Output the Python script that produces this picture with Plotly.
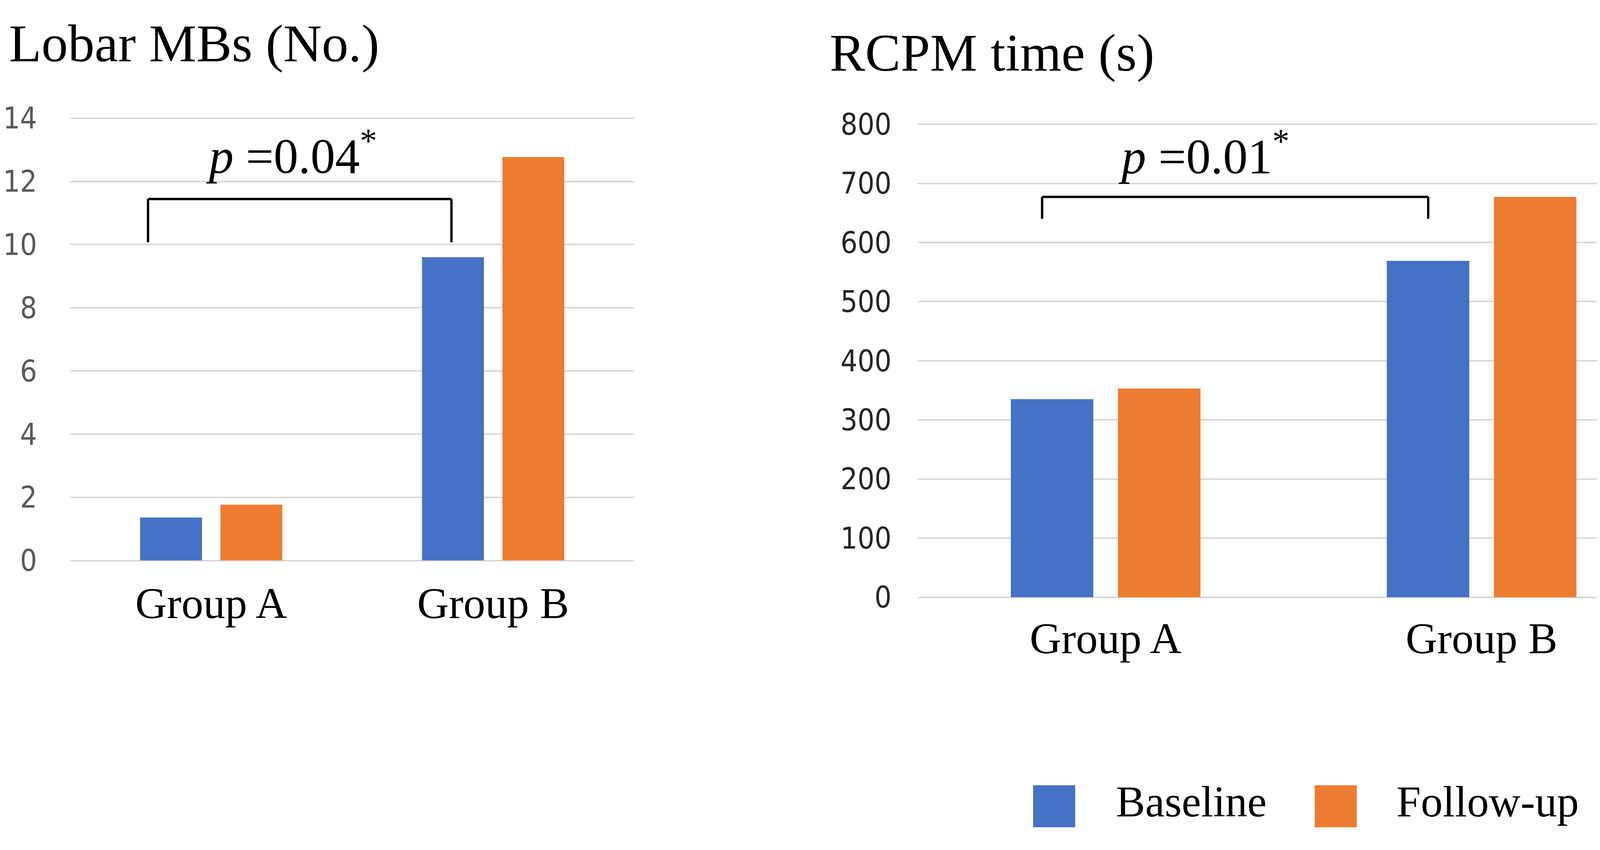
import plotly.graph_objects as go

# --- Canvas ---
W, H = 4328, 2177

# --- Data ---
groups = ["Group A", "Group B"]
series_names = ["Baseline", "Follow-up"]
series_colors = ["#4472C4", "#ED7D31"]

lobar_baseline = [1.36, 9.6]
lobar_followup = [1.77, 12.77]
lobar_ticks = [0, 2, 4, 6, 8, 10, 12, 14]

rcpm_baseline = [335, 569]
rcpm_followup = [353, 677]
rcpm_ticks = [0, 100, 200, 300, 400, 500, 600, 700, 800]

lobar_title = "Lobar MBs (No.)"
rcpm_title = "RCPM time (s)"
lobar_p_text = "<i>p</i> =0.04<sup>*</sup>"
rcpm_p_text = "<i>p</i> =0.01<sup>*</sup>"

# bracket levels (data units) and ends (category units)
lobar_bracket = dict(x0=-0.224, x1=0.852, y_leg=10.07, y_top=11.44)
rcpm_bracket = dict(x0=-0.169, x1=0.858, y_leg=640, y_top=677)

SERIF = "Liberation Serif, Times New Roman, serif"
NARROW = "Liberation Sans Narrow, DejaVu Sans Condensed, Liberation Sans, sans-serif"
GRID = "#d9d9d9"


def px_x(v):
    return v / W


def px_y(v):
    return 1 - v / H


# a little headroom so the top gridline is not dropped at the plot edge
HEAD = 1.004


def y_domain(zero_px, top_px):
    top = zero_px - (zero_px - top_px) * HEAD
    return [px_y(zero_px), px_y(top)]


fig = go.Figure()

for vals_a, vals_b, xa, ya in [
    (lobar_baseline, lobar_followup, "x", "y"),
    (rcpm_baseline, rcpm_followup, "x2", "y2"),
]:
    for name, color, vals in zip(series_names, series_colors, [vals_a, vals_b]):
        fig.add_trace(go.Bar(
            x=groups, y=vals, name=name, marker=dict(color=color, line=dict(width=0)),
            xaxis=xa, yaxis=ya, showlegend=False,
        ))


def bracket_shapes(b, xref, yref):
    line = dict(color="black", width=6)
    return [
        dict(type="line", xref=xref, yref=yref, x0=b["x0"], x1=b["x0"], y0=b["y_leg"], y1=b["y_top"], line=line),
        dict(type="line", xref=xref, yref=yref, x0=b["x0"], x1=b["x1"], y0=b["y_top"], y1=b["y_top"], line=line),
        dict(type="line", xref=xref, yref=yref, x0=b["x1"], x1=b["x1"], y0=b["y_leg"], y1=b["y_top"], line=line),
    ]


shapes = bracket_shapes(lobar_bracket, "x", "y") + bracket_shapes(rcpm_bracket, "x2", "y2")

# manual legend swatches (plotly's own bar swatches are tiny)
for color, x_left in zip(series_colors, [2634, 3356]):
    shapes.append(dict(type="rect", xref="paper", yref="paper",
                       x0=px_x(x_left), x1=px_x(x_left + 108),
                       y0=px_y(2155), y1=px_y(2043),
                       fillcolor=color, line=dict(width=0)))

annotations = [
    dict(text=lobar_title, xref="paper", yref="paper", x=px_x(6), y=px_y(146),
         xanchor="left", yanchor="bottom", showarrow=False,
         font=dict(family=SERIF, size=136, color="black")),
    dict(text=rcpm_title, xref="paper", yref="paper", x=px_x(2110), y=px_y(171),
         xanchor="left", yanchor="bottom", showarrow=False,
         font=dict(family=SERIF, size=136, color="black")),
    dict(text=lobar_p_text, xref="x", yref="y", x=0.285, y=11.91,
         xanchor="center", yanchor="bottom", showarrow=False,
         font=dict(family=SERIF, size=126, color="black")),
    dict(text=rcpm_p_text, xref="x2", yref="y2", x=0.261, y=698,
         xanchor="center", yanchor="bottom", showarrow=False,
         font=dict(family=SERIF, size=126, color="black")),
]
for name, x_left in zip(series_names, [2845, 3564]):
    annotations.append(dict(text=name, xref="paper", yref="paper",
                            x=px_x(x_left), y=px_y(2153),
                            xanchor="left", yanchor="bottom", showarrow=False,
                            font=dict(family=SERIF, size=112, color="black")))

xaxis_common = dict(
    type="category", showgrid=False, zeroline=False, showline=False, ticks="",
    tickfont=dict(family=SERIF, size=112, color="black"),
)
yaxis_common = dict(
    showgrid=True, gridcolor=GRID, gridwidth=4, zeroline=True, zerolinecolor=GRID,
    zerolinewidth=4, showline=False, ticks="",
)

fig.update_layout(
    width=W, height=H,
    margin=dict(l=0, r=0, t=0, b=0),
    paper_bgcolor="white", plot_bgcolor="white",
    barmode="group", bargap=0.43, bargroupgap=0.23,
    xaxis=dict(xaxis_common, domain=[px_x(165), px_x(1611)], anchor="y", ticklabelstandoff=34),
    yaxis=dict(yaxis_common, domain=y_domain(1444, 265), anchor="x",
               range=[0, 14 * HEAD], tickvals=lobar_ticks, ticklabelstandoff=84,
               tickfont=dict(family=NARROW, size=76, color="#595959")),
    xaxis2=dict(xaxis_common, domain=[px_x(2338), px_x(4266)], anchor="y2", ticklabelstandoff=30),
    yaxis2=dict(yaxis_common, domain=y_domain(1542, 281), anchor="x2",
                range=[0, 800 * HEAD], tickvals=rcpm_ticks, ticklabelstandoff=66,
                tickfont=dict(family=NARROW, size=76, color="#262626")),
    shapes=shapes,
    annotations=annotations,
)

fig.write_html("out.html")
